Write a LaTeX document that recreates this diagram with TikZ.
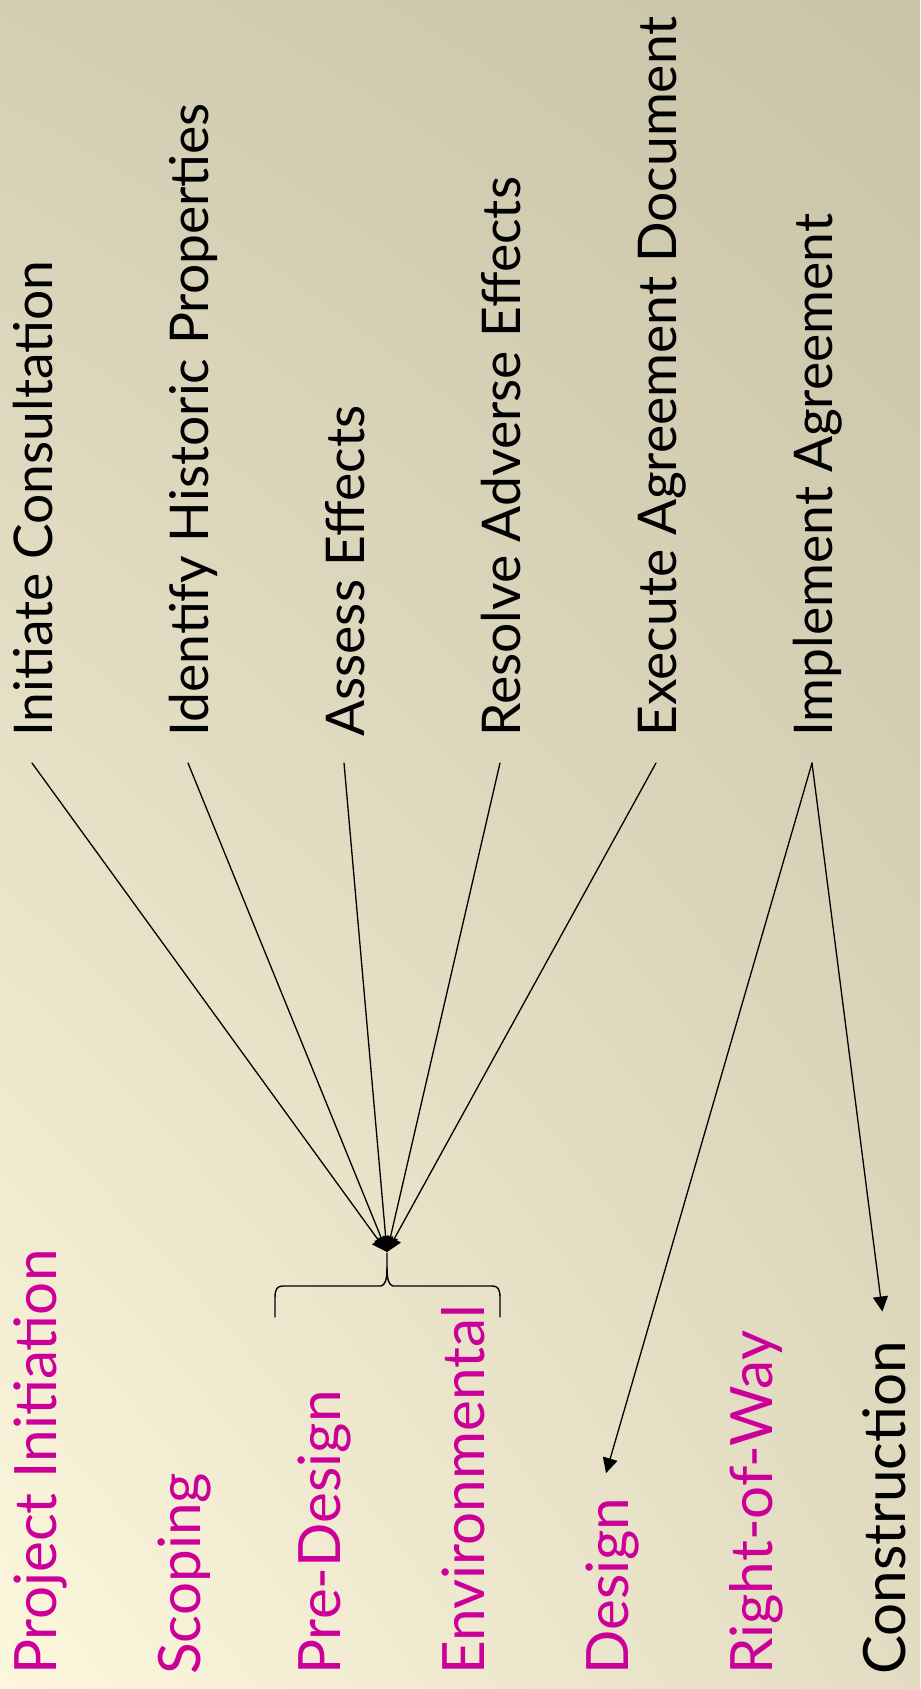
\documentclass[tikz,border=0pt]{standalone}
\usepackage{fontspec}
\setmainfont{Lato}
\usetikzlibrary{arrows.meta,shadings}
\definecolor{stagepink}{HTML}{CC0099}
\definecolor{bgtl}{HTML}{D4CEB4}
\definecolor{bgtr}{HTML}{C9C3A8}
\definecolor{bgbl}{HTML}{FDF8DD}
\definecolor{bgbr}{HTML}{E2DCC2}
\tikzset{
  task/.style={rotate=90,anchor=base west,inner ysep=0pt,inner xsep=13pt,text height=20pt,text depth=0pt,
    font=\fontsize{26.7}{28}\selectfont},
  stage/.style={task,inner xsep=12pt,text height=22pt,text=stagepink,font=\fontsize{29.2}{31}\selectfont},
  link/.style={->,line width=0.65pt}
}
\begin{document}
\begin{tikzpicture}[x=0.5pt,y=-0.5pt,>={Triangle[length=7.5pt,width=7.5pt]}, line join=round, line cap=round]
            \useasboundingbox (0,0) rectangle (920,1689);
            \shade[upper left=bgtl,upper right=bgtr,lower left=bgbl,lower right=bgbr] (0,0) rectangle (920,1689);
            % steps
            \node[task] (init) at (52,763) {Initiate Consultation};
            \node[task] (ident) at (208,763) {Identify Historic Properties};
            \node[task] (assess) at (364,763) {Assess Effects};
            \node[task] (resolve) at (520,763) {Resolve Adverse Effects};
            \node[task] (exec) at (676,763) {Execute Agreement Document};
            \node[task] (impl) at (832,763) {Implement Agreement};
            % phases
            \node[stage] (proj) at (56,1699) {Project Initiation};
            \node[stage] (scop) at (200,1699) {Scoping};
            \node[stage] (pre) at (340,1699) {Pre-Design};
            \node[stage] (env) at (484,1699) {Environmental};
            \node[stage] (design) at (628,1699) {Design};
            \node[stage] (row) at (772,1699) {Right-of-Way};
            \node[stage,text=black] (constr) at (905,1699) {Construction};
            \coordinate (hub) at (387,1252);
            \foreach \n in {init,ident,assess,resolve,exec} \draw[link] (\n.west) -- (hub);
            \draw[link] (impl.west) -- (design.east);
            \draw[link,shorten >=2.5pt] (impl.west) -- (constr.east);
            % brace over pre-design and environmental
            \draw[line width=0.7pt] (275,1317) -- (275,1298) .. controls (275,1289) and (277,1286) .. (283,1286)
                -- (381,1286) .. controls (385,1285) and (387,1280) .. (387,1268) -- (387,1253);
            \draw[line width=0.7pt] (500,1317) -- (500,1298) .. controls (500,1289) and (498,1286) .. (492,1286)
                -- (393,1286) .. controls (389,1285) and (387,1280) .. (387,1268);
        \end{tikzpicture}
\end{document}
